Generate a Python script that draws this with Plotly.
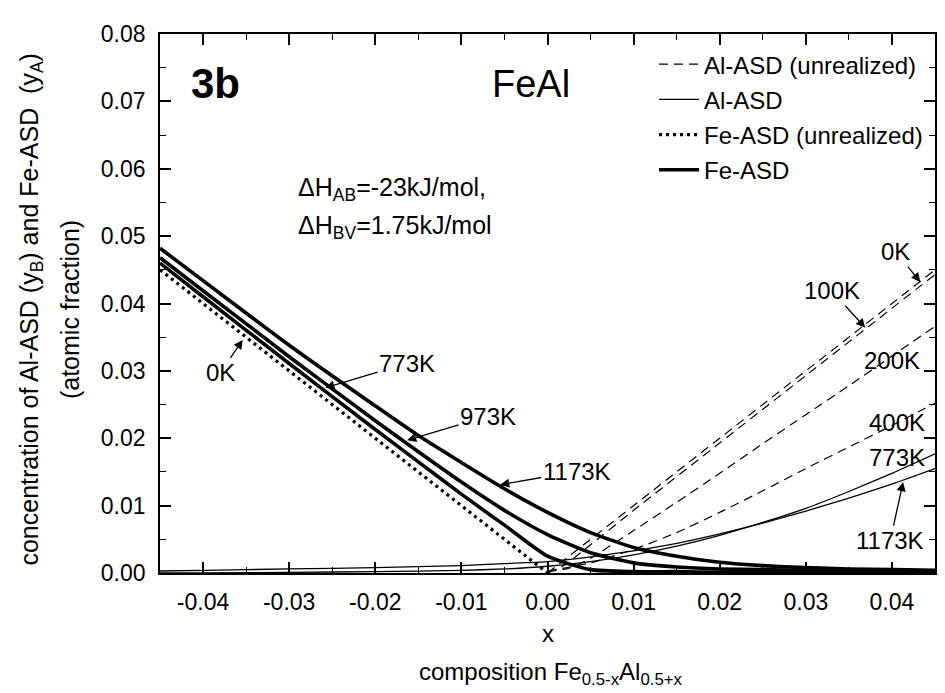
import plotly.graph_objects as go

# ---------------- data ----------------
x_fe = [-0.045, -0.04, -0.03, -0.02, -0.015, -0.01, -0.005, 0.0, 0.005, 0.01,
        0.015, 0.02, 0.025, 0.03, 0.035, 0.04, 0.045]
fe_773 = [0.0460, 0.0410, 0.0311, 0.0213, 0.0165, 0.0117, 0.0071, 0.0025, 0.0005, 0.0002,
          0.0002, 0.0001, 0.0001, 0.0001, 0.0001, 0.0001, 0.0001]
fe_973 = [0.0468, 0.0419, 0.0321, 0.0226, 0.0180, 0.0135, 0.0093, 0.0057, 0.0030, 0.0015,
          0.0009, 0.0006, 0.0005, 0.0004, 0.0004, 0.0003, 0.0003]
fe_1173 = [0.0482, 0.0434, 0.0338, 0.0248, 0.0204, 0.0164, 0.0125, 0.0090, 0.0060, 0.0038,
           0.0025, 0.0016, 0.0011, 0.0008, 0.0006, 0.0005, 0.0004]

x_fe0 = [-0.045, 0.0]
fe_0K = [0.045, 0.0]

x_al0 = [0.0, 0.045]
al_0K = [0.0, 0.045]
x_al100 = [0.0, 0.002, 0.005, 0.01, 0.02, 0.03, 0.045]
al_100K = [0.0, 0.0012, 0.0042, 0.0093, 0.0193, 0.0293, 0.0443]
x_al200 = [0.0, 0.0025, 0.005, 0.01, 0.015, 0.02, 0.025, 0.03, 0.035, 0.04, 0.045]
al_200K = [0.0002, 0.0007, 0.0022, 0.0063, 0.0105, 0.0148, 0.0192, 0.0235, 0.0278, 0.0322, 0.0366]
x_al400 = [0.0, 0.005, 0.01, 0.015, 0.02, 0.025, 0.03, 0.035, 0.04, 0.045]
al_400K = [0.0003, 0.0015, 0.0035, 0.0060, 0.0090, 0.0122, 0.0155, 0.0187, 0.0219, 0.0252]

x_al = [-0.045, -0.04, -0.03, -0.02, -0.01, -0.005, 0.0, 0.005, 0.01, 0.015,
        0.02, 0.025, 0.03, 0.035, 0.04, 0.045]
al_773 = [0.0000, 0.0000, 0.0001, 0.0002, 0.0004, 0.0006, 0.0010, 0.0017, 0.0027, 0.0040,
          0.0056, 0.0075, 0.0096, 0.0121, 0.0148, 0.0177]
al_1173 = [0.0003, 0.0004, 0.0006, 0.0008, 0.0011, 0.0014, 0.0017, 0.0024, 0.0033, 0.0044,
           0.0058, 0.0074, 0.0092, 0.0111, 0.0132, 0.0155]

x_ticks = [-0.04, -0.03, -0.02, -0.01, 0.0, 0.01, 0.02, 0.03, 0.04]
x_ticklabels = ["-0.04", "-0.03", "-0.02", "-0.01", "0.00", "0.01", "0.02", "0.03", "0.04"]
y_ticks = [0.0, 0.01, 0.02, 0.03, 0.04, 0.05, 0.06, 0.07, 0.08]
y_ticklabels = ["0.00", "0.01", "0.02", "0.03", "0.04", "0.05", "0.06", "0.07", "0.08"]

# ---------------- figure ----------------
FONT = "Liberation Sans, Arial, sans-serif"
fig = go.Figure()

dash_style = dict(color="black", width=1.2, dash="9px,6px")
thin_style = dict(color="black", width=1.3)
dot_style = dict(color="black", width=3.2, dash="3px,4px")
thick_style = dict(color="black", width=3.6)

for i, (xs, ys) in enumerate([(x_al0, al_0K), (x_al100, al_100K), (x_al200, al_200K), (x_al400, al_400K)]):
    fig.add_trace(go.Scatter(x=xs, y=ys, mode="lines", line=dict(dash_style, shape="spline", smoothing=0.6),
                             name="Al-ASD (unrealized)", legendgroup="a", showlegend=(i == 0)))
for i, ys in enumerate([al_773, al_1173]):
    fig.add_trace(go.Scatter(x=x_al, y=ys, mode="lines", line=dict(thin_style, shape="spline", smoothing=0.6),
                             name="Al-ASD", legendgroup="b", showlegend=(i == 0)))
fig.add_trace(go.Scatter(x=x_fe0, y=fe_0K, mode="lines", line=dot_style,
                         name="Fe-ASD (unrealized)", legendgroup="c"))
for i, ys in enumerate([fe_773, fe_973, fe_1173]):
    fig.add_trace(go.Scatter(x=x_fe, y=ys, mode="lines", line=dict(thick_style, shape="spline", smoothing=0.6),
                             name="Fe-ASD", legendgroup="d", showlegend=(i == 0)))

ann = []
TF = 24
def label(text, x, y, size=TF):
    ann.append(dict(text=text, x=x, y=y, xref="x", yref="y", showarrow=False,
                    xanchor="center", yanchor="middle",
                    font=dict(size=size, family=FONT, color="black")))

def arrow_label(text, x, y, tx, ty, size=TF):
    ann.append(dict(text=text, x=x, y=y, ax=tx, ay=ty, xref="x", yref="y", axref="x", ayref="y",
                    showarrow=True, arrowhead=2, arrowsize=1.4, arrowwidth=1.3, arrowcolor="black",
                    font=dict(size=size, family=FONT, color="black")))

def paper_text(text, x, y, size, xanchor="center", angle=0):
    ann.append(dict(text=text, x=x, y=y, xref="paper", yref="paper", showarrow=False,
                    xanchor=xanchor, yanchor="middle", textangle=angle,
                    font=dict(size=size, family=FONT, color="black")))

arrow_label("0K", 0.0433, 0.0432, 0.0404, 0.0477)
arrow_label("100K", 0.0369, 0.0364, 0.0330, 0.0419)
label("200K", 0.0400, 0.0316)
label("400K", 0.0406, 0.0224)
label("773K", 0.0406, 0.0171)
arrow_label("1173K", 0.0413, 0.0135, 0.0398, 0.0048)
arrow_label("0K", -0.0354, 0.0346, -0.0380, 0.0297)
arrow_label("773K", -0.0258, 0.0275, -0.0163, 0.0311)
arrow_label("973K", -0.0163, 0.0197, -0.0069, 0.0233)
arrow_label("1173K", -0.0055, 0.0131, 0.0034, 0.0151)

# panel texts (pixel positions converted to paper: x=(px-160)/775, y=(573-py)/539)
paper_text("<b>3b</b>", 0.072, 0.908, 42)
paper_text("FeAl", 0.426, 0.907, 38, xanchor="left")
paper_text("ΔH<sub>AB</sub>=-23kJ/mol,", 0.176, 0.712, 25, xanchor="left")
paper_text("ΔH<sub>BV</sub>=1.75kJ/mol", 0.176, 0.642, 25, xanchor="left")
# axis titles
paper_text("concentration of Al-ASD (y<sub>B</sub>) and Fe-ASD  (y<sub>A</sub>)", -0.167, 0.488, 25, angle=-90)
paper_text("(atomic fraction)", -0.116, 0.488, 25, angle=-90)
paper_text("x", 0.5, -0.112, 24)
paper_text("composition Fe<sub>0.5-x</sub>Al<sub>0.5+x</sub>", 0.505, -0.186, 24)

axis_common = dict(showline=True, linecolor="black", linewidth=1.6, mirror="ticks",
                   ticks="inside", ticklen=11, tickwidth=1.6, tickcolor="black",
                   showgrid=False, zeroline=False, automargin=False,
                   tickfont=dict(size=23, family=FONT, color="black"))

fig.update_layout(
    width=945, height=693,
    margin=dict(l=160, r=10, t=34, b=120),
    paper_bgcolor="white", plot_bgcolor="white",
    font=dict(family=FONT, color="black"),
    showlegend=True,
    legend=dict(x=0.991, y=0.985, xanchor="right", yanchor="top", bgcolor="rgba(0,0,0,0)",
                font=dict(size=24, family=FONT, color="black"), tracegroupgap=1,
                itemwidth=40),
    annotations=ann,
)
minor = dict(ticks="inside", ticklen=6, tickwidth=1.3, tickcolor="black", dtick=0.005,
             tick0=0.0, showgrid=False)
fig.update_xaxes(range=[-0.045, 0.045], tickvals=x_ticks, ticktext=x_ticklabels,
                 minor=minor, ticklabelstandoff=8, **axis_common)
fig.update_yaxes(range=[0, 0.08], tickvals=y_ticks, ticktext=y_ticklabels,
                 minor=minor, ticklabelstandoff=8, **axis_common)

fig.write_html("out.html")
